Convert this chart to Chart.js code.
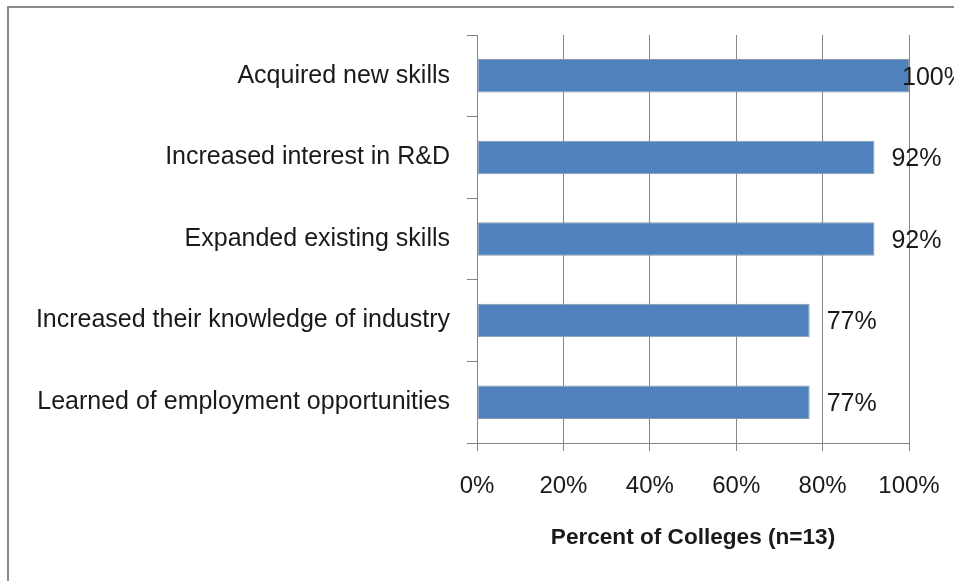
<!DOCTYPE html>
<html lang="en">
<head>
  <meta charset="UTF-8" />
  <title>Outcomes for Students</title>
  <script src="https://cdn.jsdelivr.net/npm/chart.js"></script>
  <style>
    html, body { margin: 0; padding: 0; background: #fff; overflow: hidden; }
    .wrap { position: relative; width: 954px; height: 581px; }
    .frame {
      position: absolute; left: 7px; top: 6px; width: 1000px; height: 640px;
      border-top: 2px solid #8a8a8a; border-left: 2px solid #8a8a8a;
    }
    canvas { position: absolute; left: 0; top: 0; }
  </style>
</head>
<body>
<div class="wrap">
  <div class="frame"></div>
  <canvas id="outcomeChart" width="954" height="581"></canvas>
</div>

<script>
  const categories = [
    'Acquired new skills',
    'Increased interest in R&D',
    'Expanded existing skills',
    'Increased their knowledge of industry',
    'Learned of employment opportunities'
  ];
  const percents = [100, 92, 92, 77, 77];
  const tickValues = [0, 20, 40, 60, 80, 100];

  const lineGray = '#868686';
  const textColor = '#1a1a1a';
  const fontFamily = '"Liberation Sans", Arial, sans-serif';

  // value labels just past the bar end, kept inside the plot's right edge
  const valueLabels = {
    id: 'valueLabels',
    afterDatasetsDraw(chart) {
      const ctx = chart.ctx;
      const area = chart.chartArea;
      ctx.save();
      ctx.font = '25px ' + fontFamily;
      ctx.fillStyle = textColor;
      ctx.textAlign = 'left';
      ctx.textBaseline = 'middle';
      chart.getDatasetMeta(0).data.forEach((bar, i) => {
        const x = Math.min(bar.x + 17, area.right - 7);
        ctx.fillText(percents[i] + '%', x, bar.y + 2);
      });
      ctx.restore();
    }
  };

  new Chart(document.getElementById('outcomeChart'), {
    type: 'bar',
    data: {
      labels: categories,
      datasets: [{
        data: percents,
        backgroundColor: '#4f81bd',
        borderColor: '#8d99aa',
        borderWidth: 1,
        borderSkipped: false,
        barPercentage: 0.41,
        categoryPercentage: 1
      }]
    },
    options: {
      indexAxis: 'y',
      responsive: false,
      devicePixelRatio: 1,
      animation: false,
      layout: { padding: { top: 35, right: 45, bottom: 0, left: 0 } },
      plugins: {
        legend: { display: false },
        tooltip: { enabled: false }
      },
      scales: {
        x: {
          min: 0,
          max: 100,
          afterBuildTicks: scale => { scale.ticks = tickValues.map(v => ({ value: v })); },
          afterFit: scale => {
            scale.height = 138;
            scale.paddingLeft = 0;
            scale.paddingRight = 0;
          },
          ticks: {
            callback: v => v + '%',
            color: textColor,
            padding: 21,
            maxRotation: 0,
            font: { family: fontFamily, size: 24 }
          },
          grid: { color: lineGray, tickLength: 8, lineWidth: 1 },
          border: { color: lineGray },
          title: {
            display: true,
            text: 'Percent of Colleges (n=13)',
            color: textColor,
            padding: { top: 0, bottom: 30 },
            font: { family: fontFamily, size: 22.6, weight: 'bold' }
          }
        },
        y: {
          afterFit: scale => { scale.width = 477; },
          ticks: {
            color: textColor,
            padding: 17,
            font: { family: fontFamily, size: 25 }
          },
          grid: { drawOnChartArea: false, color: lineGray, tickLength: 10 },
          border: { color: lineGray }
        }
      }
    },
    plugins: [valueLabels]
  });
</script>
</body>
</html>
